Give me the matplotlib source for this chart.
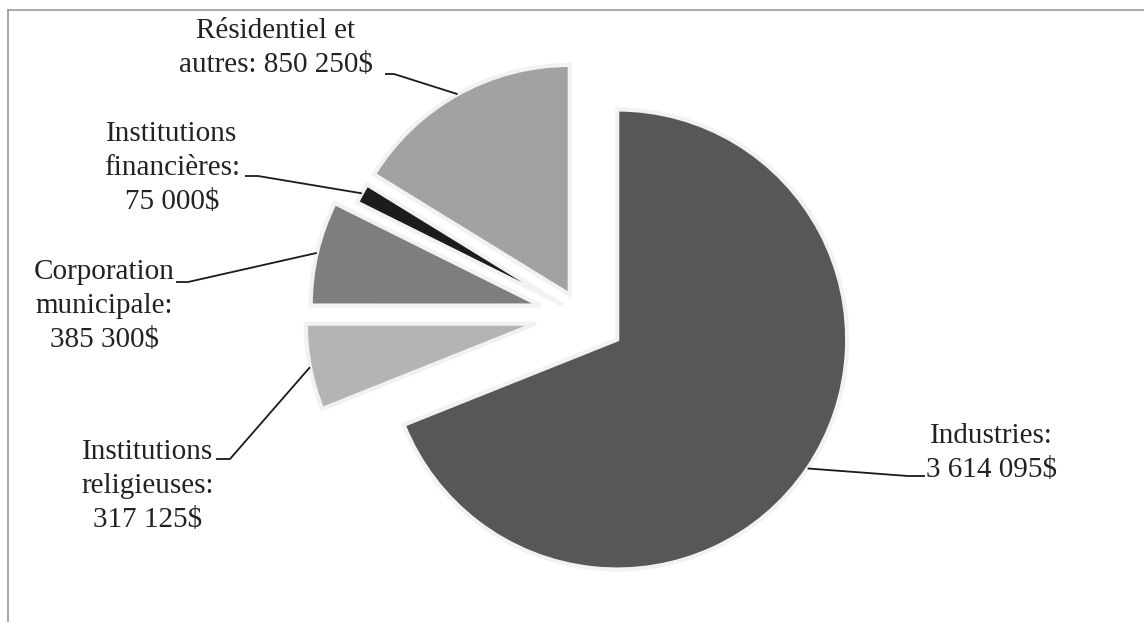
import numpy as np
import matplotlib.pyplot as plt
from matplotlib.lines import Line2D

# values (order = clockwise from 12 o'clock)
categories = ['Industries', 'Institutions religieuses', 'Corporation municipale',
              'Institutions financières', 'Résidentiel et autres']
values = [3614095, 317125, 385300, 75000, 850250]
labels = ['Industries:\n3 614 095$',
          'Institutions\nreligieuses:\n317 125$',
          'Corporation\nmunicipale:\n385 300$',
          'Institutions\nfinancières:\n75 000$',
          'Résidentiel et\nautres: 850 250$']
explode = [0.19, 0.20, 0.18, 0.09, 0.10]
colors = ['#575757', '#b4b4b4', '#7e7e7e', '#1c1c1c', '#a2a2a2']

W, H = 1144, 622
fig = plt.figure(figsize=(W / 100, H / 100), dpi=100)
ax = fig.add_axes([0, 0, 1, 1])

R = 230
# matplotlib's explode offset is in data units, so scale by radius
wedges, _ = ax.pie(values, colors=colors, startangle=90, counterclock=False,
                   explode=[e * R for e in explode], radius=R, center=(581, H - 315),
                   wedgeprops=dict(edgecolor='#f2f2f2', linewidth=3))

ax.set_xlim(0, W)
ax.set_ylim(0, H)
ax.set_aspect('equal')
ax.axis('off')

# label text centres (pixels, y from top) and leader elbows
label_pos = [(991, 453), (148, 486), (104, 306), (172, 168), (276, 48)]
elbows = [[(925, 476), (908, 476)],
          [(216, 459), (230, 459)],
          [(176, 282), (188, 282)],
          [(245, 176), (258, 176)],
          [(385, 74), (394, 74)]]

for w, lab, (tx, ty), elb in zip(wedges, labels, label_pos, elbows):
    mid = np.deg2rad((w.theta1 + w.theta2) / 2)
    cx, cy = w.center
    px = cx + w.r * np.cos(mid)
    py = cy + w.r * np.sin(mid)
    xs = [elb[0][0], elb[1][0], px]
    ys = [H - elb[0][1], H - elb[1][1], py]
    ax.plot(xs, ys, color='#1a1a1a', lw=1.3, solid_capstyle='butt')
    ax.text(tx, H - ty, lab, ha='center', va='center', multialignment='center',
            fontsize=21, family='Liberation Serif', color='#222222', linespacing=1.38)

# frame of the scanned chart area
fig.add_artist(Line2D([0.007, 1.0], [1 - 10 / H, 1 - 10 / H], color='#9a9a9a', lw=1.2))
fig.add_artist(Line2D([8 / W, 8 / W], [0, 1 - 10 / H], color='#9a9a9a', lw=1.2))

fig.savefig('out.png', dpi=100)
